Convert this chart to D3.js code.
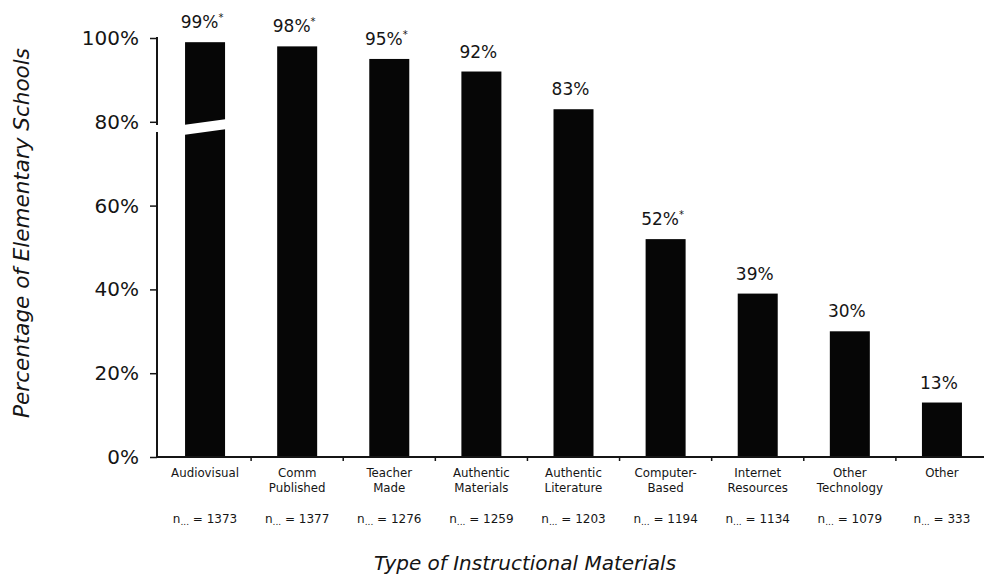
<!DOCTYPE html>
<html>
<head>
<meta charset="utf-8">
<script src="https://cdn.jsdelivr.net/npm/d3@7"></script>
<style>
  html, body { margin: 0; padding: 0; background: #fff; }
  svg { display: block; font-family: "DejaVu Sans", "Liberation Sans", sans-serif; }
</style>
</head>
<body>
<svg id="chart" width="984" height="579"></svg>
<script>
// ---- data ----
const categories = [
  ["Audiovisual"],
  ["Comm", "Published"],
  ["Teacher", "Made"],
  ["Authentic", "Materials"],
  ["Authentic", "Literature"],
  ["Computer-", "Based"],
  ["Internet", "Resources"],
  ["Other", "Technology"],
  ["Other"]
];
const values = [99, 98, 95, 92, 83, 52, 39, 30, 13];
const significant = [true, true, true, false, false, true, false, false, false];
const nCounts = [1373, 1377, 1276, 1259, 1203, 1194, 1134, 1079, 333];
const yTicks = [0, 20, 40, 60, 80, 100];
const yTitle = "Percentage of Elementary Schools";
const xTitle = "Type of Instructional Materials";
const breakValue = 79; // axis break on first bar

// ---- layout ----
const svg = d3.select("#chart");
const x = d3.scaleBand().domain(d3.range(categories.length)).range([159, 988]);
const y = d3.scaleLinear().domain([0, 100]).range([457, 38]);
const barW = 40;
const axisX = 157;
const ink = "#151515";

// bars
svg.append("g").selectAll("rect").data(values).join("rect")
  .attr("x", (d, i) => x(i) + x.bandwidth() / 2 - barW / 2)
  .attr("width", barW)
  .attr("y", d => y(d))
  .attr("height", d => y(0) - y(d))
  .attr("fill", "#060606");

// break across the first bar and y axis
const yb = y(breakValue);
const bx0 = x(0) + x.bandwidth() / 2 - barW / 2 - 2;
const bx1 = bx0 + barW + 4;
svg.append("polygon")
  .attr("points", [[bx0, yb - 1], [bx1, yb - 7], [bx1, yb + 3], [bx0, yb + 9]].map(p => p.join(",")).join(" "))
  .attr("fill", "#fff");

// y axis
const yAxis = svg.append("g").attr("transform", `translate(${axisX},0)`)
  .call(d3.axisLeft(y).tickValues(yTicks).tickSize(7).tickFormat(d => d + "%"));
yAxis.select(".domain").attr("d", `M-1,${y(100)}H0V${y(0)}`).attr("stroke", ink).attr("stroke-width", 2);
yAxis.selectAll(".tick line").attr("stroke", ink).attr("stroke-width", 1.5);
yAxis.selectAll(".tick text")
  .attr("x", -18).attr("dy", "0.32em")
  .attr("font-size", 20).attr("font-family", "DejaVu Sans").attr("fill", ink);
svg.append("rect").attr("x", axisX - 4).attr("y", yb - 1).attr("width", 8).attr("height", 7).attr("fill", "#fff");

// x axis
const xAxis = svg.append("g").attr("transform", `translate(0,${y(0)})`);
xAxis.append("line").attr("x1", axisX).attr("x2", 984).attr("y1", 0).attr("y2", 0)
  .attr("stroke", ink).attr("stroke-width", 2);
xAxis.selectAll("line.sep").data(d3.range(1, categories.length)).join("line")
  .attr("class", "sep")
  .attr("x1", i => x(i)).attr("x2", i => x(i)).attr("y1", 0).attr("y2", 4)
  .attr("stroke", ink).attr("stroke-width", 1.5);

// category labels
const lab = svg.append("g").selectAll("text").data(categories).join("text")
  .attr("text-anchor", "middle")
  .attr("font-size", 11.8).attr("fill", ink);
lab.each(function (lines, i) {
  d3.select(this).selectAll("tspan").data(lines).join("tspan")
    .attr("x", x(i) + x.bandwidth() / 2)
    .attr("y", (l, j) => 477 + j * 15)
    .text(l => l);
});

// n labels
const nl = svg.append("g").selectAll("text").data(nCounts).join("text")
  .attr("x", (d, i) => x(i) + x.bandwidth() / 2)
  .attr("y", 523)
  .attr("text-anchor", "middle")
  .attr("font-size", 12).attr("fill", ink);
nl.append("tspan").text("n");
nl.append("tspan").attr("font-size", 9).attr("dy", 2).text("...");
nl.append("tspan").attr("dy", -2).text(d => " = " + d);

// value labels
const vl = svg.append("g").selectAll("text").data(values).join("text")
  .attr("x", (d, i) => x(i) + x.bandwidth() / 2 - 3)
  .attr("y", d => y(d) - 14)
  .attr("text-anchor", "middle")
  .attr("font-size", 17).attr("fill", ink);
vl.append("tspan").text(d => d + "%");
vl.filter((d, i) => significant[i]).append("tspan")
  .attr("font-size", 10).attr("dy", -7).text("*");

// axis titles
svg.append("text")
  .attr("transform", `translate(29,233) rotate(-90)`)
  .attr("text-anchor", "middle")
  .attr("font-size", 21.5).attr("font-style", "italic").attr("fill", ink)
  .text(yTitle);
svg.append("text")
  .attr("x", 525).attr("y", 570)
  .attr("text-anchor", "middle")
  .attr("font-size", 20).attr("font-style", "italic").attr("fill", ink)
  .text(xTitle);
</script>
</body>
</html>
